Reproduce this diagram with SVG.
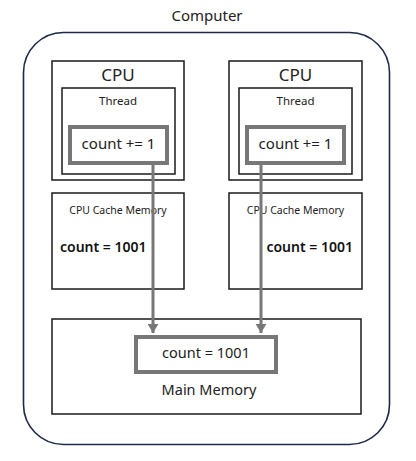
<svg xmlns="http://www.w3.org/2000/svg" width="416" height="461" viewBox="0 0 416 461">
<style>
text{font-family:"Noto Sans","Liberation Sans",sans-serif;fill:#222}
.box{fill:#fff;stroke:#1a1a1a;stroke-width:1.5}
.var{fill:#fff;stroke:#777;stroke-width:4}
.conn{stroke:#777;stroke-width:3;fill:none}
.val{font-size:14px;font-weight:600;fill:#111}
</style>
<defs>
<marker id="ah" markerWidth="4" markerHeight="4" refX="3" refY="2" orient="auto" markerUnits="strokeWidth">
<path d="M0,0.2 L3,2 L0,3.8 Z" fill="#777"/>
</marker>
</defs>
<rect width="416" height="461" fill="#fff"/>
<g id="computer">
<rect x="23.5" y="32.5" width="366" height="412" rx="40" fill="#fff" stroke="#1c2a48" stroke-width="1.6"/>
<text x="207" y="21" text-anchor="middle" font-size="15">Computer</text>
</g>
<g id="cpu1">
<rect class="box" x="52" y="61" width="132" height="119"/>
<text x="118" y="81" text-anchor="middle" font-size="17">CPU</text>
<rect class="box" x="62" y="88" width="113" height="86"/>
<text x="118" y="104.5" text-anchor="middle" font-size="11.5">Thread</text>
<rect class="var" x="70" y="127" width="97" height="36"/>
<text x="118.5" y="149" text-anchor="middle" font-size="15">count += 1</text>
</g>
<g id="cpu2">
<rect class="box" x="229" y="61" width="133" height="119"/>
<text x="295.5" y="81" text-anchor="middle" font-size="17">CPU</text>
<rect class="box" x="239" y="88" width="113" height="86"/>
<text x="295.5" y="104.5" text-anchor="middle" font-size="11.5">Thread</text>
<rect class="var" x="247" y="127" width="97" height="36"/>
<text x="295.5" y="149" text-anchor="middle" font-size="15">count += 1</text>
</g>
<g id="cache1">
<rect class="box" x="52" y="193" width="132" height="96"/>
<text x="118" y="214" text-anchor="middle" font-size="10.5">CPU Cache Memory</text>
<text class="val" x="60" y="252">count = 1001</text>
</g>
<g id="cache2">
<rect class="box" x="229" y="193" width="133" height="96"/>
<text x="295.5" y="214" text-anchor="middle" font-size="10.5">CPU Cache Memory</text>
<text class="val" x="353" y="252" text-anchor="end">count = 1001</text>
</g>
<g id="main-memory">
<rect class="box" x="52" y="319" width="309" height="95"/>
<rect class="var" x="136" y="337" width="140" height="35"/>
<text x="206" y="358" text-anchor="middle" font-size="14.5">count = 1001</text>
<text x="209" y="395" text-anchor="middle" font-size="14.5">Main Memory</text>
</g>
<g id="connectors">
<line class="conn" x1="153" y1="163" x2="153" y2="333" marker-end="url(#ah)"/>
<line class="conn" x1="261" y1="163" x2="261" y2="333" marker-end="url(#ah)"/>
</g>
</svg>
